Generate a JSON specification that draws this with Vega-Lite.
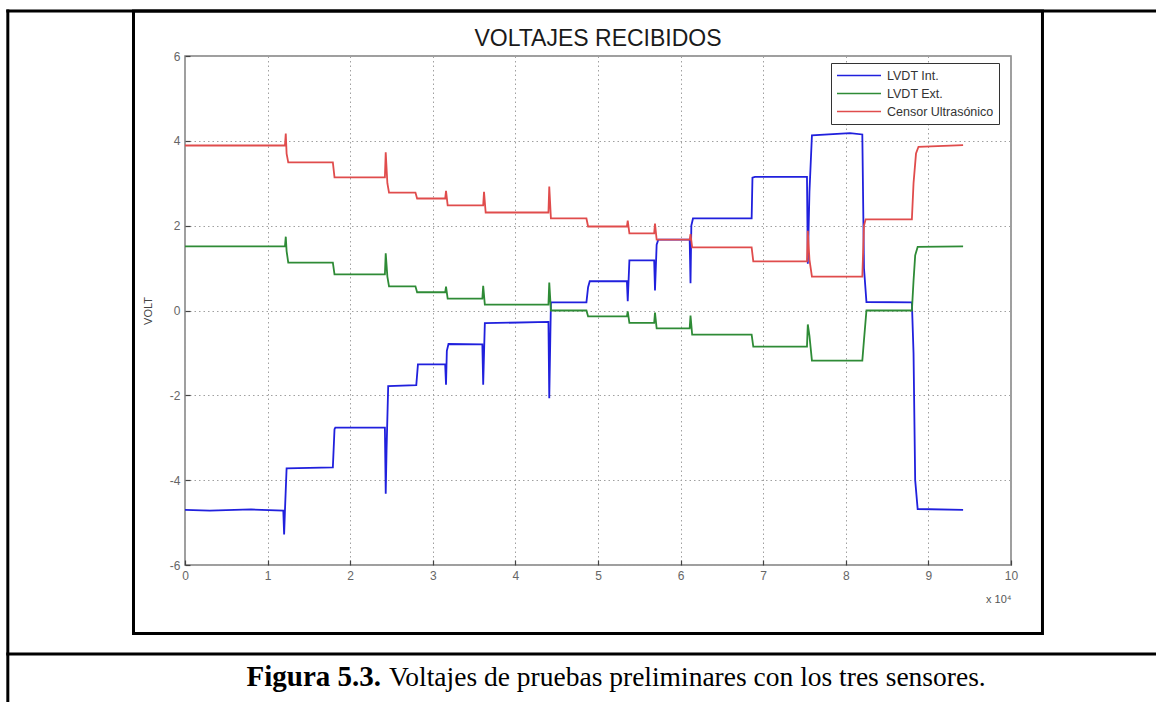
{
  "$schema": "https://vega.github.io/schema/vega-lite/v6.json",
  "width": 826,
  "height": 509,
  "autosize": {"type": "none"},
  "padding": {"left": 185, "top": 56, "right": 145, "bottom": 137},
  "background": "white",
  "config": {
    "view": {"stroke": "#808080", "strokeWidth": 1.5},
    "font": "Liberation Sans"
  },
  "layer": [
    {
      "data": {"values": [{}]},
      "mark": {"type": "rule", "color": "black", "strokeWidth": 3, "strokeCap": "square"},
      "encoding": {
        "x": {"datum": -2.145, "type": "quantitative", "scale": {"domain": [0, 10], "nice": false, "zero": false}},
        "x2": {"datum": 11.9},
        "y": {"datum": 7.061, "type": "quantitative", "scale": {"domain": [-6, 6], "nice": false, "zero": false}}
      }
    },
    {
      "data": {"values": [{}]},
      "mark": {"type": "rule", "color": "black", "strokeWidth": 3, "strokeCap": "square"},
      "encoding": {
        "x": {"datum": -2.145, "type": "quantitative", "scale": {"domain": [0, 10], "nice": false, "zero": false}},
        "y": {"datum": 7.061, "type": "quantitative", "scale": {"domain": [-6, 6], "nice": false, "zero": false}},
        "y2": {"datum": -9.5}
      }
    },
    {
      "data": {"values": [{}]},
      "mark": {"type": "rule", "color": "black", "strokeWidth": 3, "strokeCap": "square"},
      "encoding": {
        "x": {"datum": -2.145, "type": "quantitative", "scale": {"domain": [0, 10], "nice": false, "zero": false}},
        "x2": {"datum": 11.9},
        "y": {"datum": -8.098, "type": "quantitative", "scale": {"domain": [-6, 6], "nice": false, "zero": false}}
      }
    },
    {
      "data": {"values": [{}]},
      "mark": {"type": "rect", "fill": null, "fillOpacity": 0, "stroke": "black", "strokeWidth": 3},
      "encoding": {
        "x": {"datum": -0.6235, "type": "quantitative", "scale": {"domain": [0, 10], "nice": false, "zero": false}},
        "x2": {"datum": 10.381},
        "y": {"datum": 7.061, "type": "quantitative", "scale": {"domain": [-6, 6], "nice": false, "zero": false}},
        "y2": {"datum": -7.615}
      }
    },
    {
      "data": {"values": [{}]},
      "mark": {"type": "text", "font": "Liberation Sans", "fontSize": 23, "fontWeight": "normal", "align": "center", "baseline": "alphabetic", "color": "#1a1a1a"},
      "encoding": {
        "x": {"datum": 5, "type": "quantitative", "scale": {"domain": [0, 10], "nice": false, "zero": false}},
        "y": {"datum": 6.236, "type": "quantitative", "scale": {"domain": [-6, 6], "nice": false, "zero": false}},
        "text": {"value": "VOLTAJES RECIBIDOS"}
      }
    },
    {
      "data": {"values": [{}]},
      "mark": {"type": "text", "font": "Liberation Serif", "fontSize": 29, "fontWeight": "bold", "align": "right", "baseline": "alphabetic", "color": "black"},
      "encoding": {
        "x": {"datum": 2.373, "type": "quantitative", "scale": {"domain": [0, 10], "nice": false, "zero": false}},
        "y": {"datum": -8.853, "type": "quantitative", "scale": {"domain": [-6, 6], "nice": false, "zero": false}},
        "text": {"value": "Figura 5.3."}
      }
    },
    {
      "data": {"values": [{}]},
      "mark": {"type": "text", "font": "Liberation Serif", "fontSize": 27.5, "fontWeight": "normal", "align": "left", "baseline": "alphabetic", "color": "black"},
      "encoding": {
        "x": {"datum": 2.47, "type": "quantitative", "scale": {"domain": [0, 10], "nice": false, "zero": false}},
        "y": {"datum": -8.853, "type": "quantitative", "scale": {"domain": [-6, 6], "nice": false, "zero": false}},
        "text": {"value": "Voltajes de pruebas preliminares con los tres sensores."}
      }
    },
    {
      "data": {"values": [
        {"s": "LVDT Int.", "x": 0, "y": -4.7}, {"s": "LVDT Int.", "x": 0.3, "y": -4.72}, {"s": "LVDT Int.", "x": 0.8, "y": -4.69}, {"s": "LVDT Int.", "x": 1.19, "y": -4.72}, {"s": "LVDT Int.", "x": 1.2, "y": -5.28}, {"s": "LVDT Int.", "x": 1.21, "y": -4.72}, {"s": "LVDT Int.", "x": 1.23, "y": -3.72}, {"s": "LVDT Int.", "x": 1.79, "y": -3.7}, {"s": "LVDT Int.", "x": 1.81, "y": -2.8}, {"s": "LVDT Int.", "x": 1.82, "y": -2.76}, {"s": "LVDT Int.", "x": 2.42, "y": -2.76}, {"s": "LVDT Int.", "x": 2.43, "y": -4.32}, {"s": "LVDT Int.", "x": 2.44, "y": -3.3}, {"s": "LVDT Int.", "x": 2.46, "y": -1.78}, {"s": "LVDT Int.", "x": 2.8, "y": -1.76}, {"s": "LVDT Int.", "x": 2.82, "y": -1.27}, {"s": "LVDT Int.", "x": 3.15, "y": -1.27}, {"s": "LVDT Int.", "x": 3.16, "y": -1.75}, {"s": "LVDT Int.", "x": 3.17, "y": -0.95}, {"s": "LVDT Int.", "x": 3.19, "y": -0.79}, {"s": "LVDT Int.", "x": 3.6, "y": -0.8}, {"s": "LVDT Int.", "x": 3.61, "y": -1.75}, {"s": "LVDT Int.", "x": 3.63, "y": -0.3}, {"s": "LVDT Int.", "x": 4.4, "y": -0.27}, {"s": "LVDT Int.", "x": 4.41, "y": -2.07}, {"s": "LVDT Int.", "x": 4.43, "y": 0.19}, {"s": "LVDT Int.", "x": 4.86, "y": 0.19}, {"s": "LVDT Int.", "x": 4.88, "y": 0.55}, {"s": "LVDT Int.", "x": 4.9, "y": 0.69}, {"s": "LVDT Int.", "x": 5.35, "y": 0.69}, {"s": "LVDT Int.", "x": 5.36, "y": 0.22}, {"s": "LVDT Int.", "x": 5.38, "y": 1.18}, {"s": "LVDT Int.", "x": 5.68, "y": 1.18}, {"s": "LVDT Int.", "x": 5.69, "y": 0.47}, {"s": "LVDT Int.", "x": 5.71, "y": 1.55}, {"s": "LVDT Int.", "x": 5.73, "y": 1.67}, {"s": "LVDT Int.", "x": 6.11, "y": 1.67}, {"s": "LVDT Int.", "x": 6.12, "y": 0.64}, {"s": "LVDT Int.", "x": 6.13, "y": 2.0}, {"s": "LVDT Int.", "x": 6.15, "y": 2.17}, {"s": "LVDT Int.", "x": 6.86, "y": 2.17}, {"s": "LVDT Int.", "x": 6.87, "y": 3.13}, {"s": "LVDT Int.", "x": 6.9, "y": 3.15}, {"s": "LVDT Int.", "x": 7.53, "y": 3.15}, {"s": "LVDT Int.", "x": 7.54, "y": 1.1}, {"s": "LVDT Int.", "x": 7.56, "y": 2.8}, {"s": "LVDT Int.", "x": 7.59, "y": 4.13}, {"s": "LVDT Int.", "x": 8.05, "y": 4.18}, {"s": "LVDT Int.", "x": 8.2, "y": 4.15}, {"s": "LVDT Int.", "x": 8.22, "y": 1.0}, {"s": "LVDT Int.", "x": 8.25, "y": 0.2}, {"s": "LVDT Int.", "x": 8.8, "y": 0.19}, {"s": "LVDT Int.", "x": 8.82, "y": -1.0}, {"s": "LVDT Int.", "x": 8.84, "y": -4.0}, {"s": "LVDT Int.", "x": 8.87, "y": -4.68}, {"s": "LVDT Int.", "x": 9.42, "y": -4.7},
        {"s": "LVDT Ext.", "x": 0, "y": 1.51}, {"s": "LVDT Ext.", "x": 1.21, "y": 1.51}, {"s": "LVDT Ext.", "x": 1.22, "y": 1.74}, {"s": "LVDT Ext.", "x": 1.23, "y": 1.4}, {"s": "LVDT Ext.", "x": 1.25, "y": 1.13}, {"s": "LVDT Ext.", "x": 1.79, "y": 1.13}, {"s": "LVDT Ext.", "x": 1.81, "y": 0.85}, {"s": "LVDT Ext.", "x": 2.42, "y": 0.85}, {"s": "LVDT Ext.", "x": 2.43, "y": 1.35}, {"s": "LVDT Ext.", "x": 2.45, "y": 0.8}, {"s": "LVDT Ext.", "x": 2.47, "y": 0.57}, {"s": "LVDT Ext.", "x": 2.79, "y": 0.57}, {"s": "LVDT Ext.", "x": 2.81, "y": 0.43}, {"s": "LVDT Ext.", "x": 3.15, "y": 0.43}, {"s": "LVDT Ext.", "x": 3.16, "y": 0.56}, {"s": "LVDT Ext.", "x": 3.18, "y": 0.28}, {"s": "LVDT Ext.", "x": 3.6, "y": 0.28}, {"s": "LVDT Ext.", "x": 3.61, "y": 0.58}, {"s": "LVDT Ext.", "x": 3.63, "y": 0.14}, {"s": "LVDT Ext.", "x": 4.4, "y": 0.14}, {"s": "LVDT Ext.", "x": 4.41, "y": 0.66}, {"s": "LVDT Ext.", "x": 4.43, "y": 0.0}, {"s": "LVDT Ext.", "x": 4.86, "y": 0.0}, {"s": "LVDT Ext.", "x": 4.88, "y": -0.14}, {"s": "LVDT Ext.", "x": 5.35, "y": -0.14}, {"s": "LVDT Ext.", "x": 5.36, "y": -0.02}, {"s": "LVDT Ext.", "x": 5.38, "y": -0.29}, {"s": "LVDT Ext.", "x": 5.68, "y": -0.29}, {"s": "LVDT Ext.", "x": 5.69, "y": -0.05}, {"s": "LVDT Ext.", "x": 5.71, "y": -0.42}, {"s": "LVDT Ext.", "x": 6.11, "y": -0.42}, {"s": "LVDT Ext.", "x": 6.12, "y": -0.12}, {"s": "LVDT Ext.", "x": 6.14, "y": -0.57}, {"s": "LVDT Ext.", "x": 6.86, "y": -0.57}, {"s": "LVDT Ext.", "x": 6.88, "y": -0.85}, {"s": "LVDT Ext.", "x": 7.53, "y": -0.85}, {"s": "LVDT Ext.", "x": 7.54, "y": -0.33}, {"s": "LVDT Ext.", "x": 7.56, "y": -0.6}, {"s": "LVDT Ext.", "x": 7.59, "y": -1.18}, {"s": "LVDT Ext.", "x": 8.2, "y": -1.18}, {"s": "LVDT Ext.", "x": 8.22, "y": -0.7}, {"s": "LVDT Ext.", "x": 8.25, "y": 0.0}, {"s": "LVDT Ext.", "x": 8.8, "y": 0.0}, {"s": "LVDT Ext.", "x": 8.82, "y": 0.7}, {"s": "LVDT Ext.", "x": 8.84, "y": 1.3}, {"s": "LVDT Ext.", "x": 8.87, "y": 1.5}, {"s": "LVDT Ext.", "x": 9.42, "y": 1.51},
        {"s": "Censor Ultrasónico", "x": 0, "y": 3.89}, {"s": "Censor Ultrasónico", "x": 1.21, "y": 3.89}, {"s": "Censor Ultrasónico", "x": 1.22, "y": 4.17}, {"s": "Censor Ultrasónico", "x": 1.23, "y": 3.7}, {"s": "Censor Ultrasónico", "x": 1.25, "y": 3.49}, {"s": "Censor Ultrasónico", "x": 1.79, "y": 3.49}, {"s": "Censor Ultrasónico", "x": 1.81, "y": 3.14}, {"s": "Censor Ultrasónico", "x": 2.42, "y": 3.14}, {"s": "Censor Ultrasónico", "x": 2.43, "y": 3.73}, {"s": "Censor Ultrasónico", "x": 2.45, "y": 3.0}, {"s": "Censor Ultrasónico", "x": 2.47, "y": 2.78}, {"s": "Censor Ultrasónico", "x": 2.79, "y": 2.78}, {"s": "Censor Ultrasónico", "x": 2.81, "y": 2.64}, {"s": "Censor Ultrasónico", "x": 3.15, "y": 2.64}, {"s": "Censor Ultrasónico", "x": 3.16, "y": 2.82}, {"s": "Censor Ultrasónico", "x": 3.18, "y": 2.48}, {"s": "Censor Ultrasónico", "x": 3.61, "y": 2.48}, {"s": "Censor Ultrasónico", "x": 3.62, "y": 2.8}, {"s": "Censor Ultrasónico", "x": 3.64, "y": 2.31}, {"s": "Censor Ultrasónico", "x": 4.4, "y": 2.31}, {"s": "Censor Ultrasónico", "x": 4.41, "y": 2.92}, {"s": "Censor Ultrasónico", "x": 4.43, "y": 2.17}, {"s": "Censor Ultrasónico", "x": 4.86, "y": 2.17}, {"s": "Censor Ultrasónico", "x": 4.88, "y": 1.98}, {"s": "Censor Ultrasónico", "x": 5.35, "y": 1.98}, {"s": "Censor Ultrasónico", "x": 5.36, "y": 2.12}, {"s": "Censor Ultrasónico", "x": 5.38, "y": 1.82}, {"s": "Censor Ultrasónico", "x": 5.68, "y": 1.82}, {"s": "Censor Ultrasónico", "x": 5.69, "y": 2.05}, {"s": "Censor Ultrasónico", "x": 5.71, "y": 1.67}, {"s": "Censor Ultrasónico", "x": 6.11, "y": 1.67}, {"s": "Censor Ultrasónico", "x": 6.12, "y": 1.8}, {"s": "Censor Ultrasónico", "x": 6.14, "y": 1.49}, {"s": "Censor Ultrasónico", "x": 6.86, "y": 1.49}, {"s": "Censor Ultrasónico", "x": 6.88, "y": 1.16}, {"s": "Censor Ultrasónico", "x": 7.53, "y": 1.16}, {"s": "Censor Ultrasónico", "x": 7.54, "y": 1.88}, {"s": "Censor Ultrasónico", "x": 7.56, "y": 1.2}, {"s": "Censor Ultrasónico", "x": 7.59, "y": 0.8}, {"s": "Censor Ultrasónico", "x": 8.2, "y": 0.8}, {"s": "Censor Ultrasónico", "x": 8.22, "y": 2.0}, {"s": "Censor Ultrasónico", "x": 8.24, "y": 2.15}, {"s": "Censor Ultrasónico", "x": 8.8, "y": 2.15}, {"s": "Censor Ultrasónico", "x": 8.82, "y": 3.0}, {"s": "Censor Ultrasónico", "x": 8.85, "y": 3.7}, {"s": "Censor Ultrasónico", "x": 8.88, "y": 3.86}, {"s": "Censor Ultrasónico", "x": 9.42, "y": 3.9}
      ]},
      "mark": {"type": "line", "strokeWidth": 1.8},
      "encoding": {
        "x": {
          "field": "x", "type": "quantitative",
          "scale": {"domain": [0, 10], "nice": false, "zero": false},
          "axis": {
            "values": [0, 1, 2, 3, 4, 5, 6, 7, 8, 9, 10],
            "labelExpr": "'' + datum.value",
            "title": "x 10⁴", "titleAnchor": "end", "titleAlign": "right", "titleFontSize": 11, "titleFontWeight": "normal", "titleColor": "#555", "titlePadding": 12,
            "grid": true, "gridDash": [1.5, 3], "gridColor": "#a0a0a0", "gridWidth": 1,
            "domain": false, "ticks": true, "tickSize": -5, "tickColor": "#444", "tickWidth": 1.2,
            "labelFontSize": 12, "labelColor": "#666", "labelPadding": 10, "labelFlush": false, "labelOverlap": false
          }
        },
        "y": {
          "field": "y", "type": "quantitative",
          "scale": {"domain": [-6, 6], "nice": false, "zero": false},
          "axis": {
            "values": [-6, -4, -2, 0, 2, 4, 6],
            "labelExpr": "'' + datum.value",
            "title": "VOLT", "titleFontSize": 11, "titleFontWeight": "normal", "titleColor": "#444", "titlePadding": 16,
            "grid": true, "gridDash": [1.5, 3], "gridColor": "#a0a0a0", "gridWidth": 1,
            "domain": false, "ticks": true, "tickSize": -5, "tickColor": "#444", "tickWidth": 1.2,
            "labelFontSize": 12, "labelColor": "#666", "labelPadding": 10, "labelOverlap": false, "labelFlush": false
          }
        },
        "color": {
          "field": "s", "type": "nominal",
          "scale": {"domain": ["LVDT Int.", "LVDT Ext.", "Censor Ultrasónico"], "range": ["#2020dd", "#2e8b36", "#e04c4c"]},
          "legend": {
            "orient": "none", "legendX": 646, "legendY": 7, "title": null,
            "symbolType": "stroke", "symbolSize": 1936, "symbolStrokeWidth": 1.5,
            "labelFontSize": 12.5, "labelColor": "#333", "labelOffset": 5,
            "padding": 5, "fillColor": "white", "strokeColor": "#333", "clipHeight": 15, "rowPadding": 3
          }
        }
      }
    }
  ]
}
